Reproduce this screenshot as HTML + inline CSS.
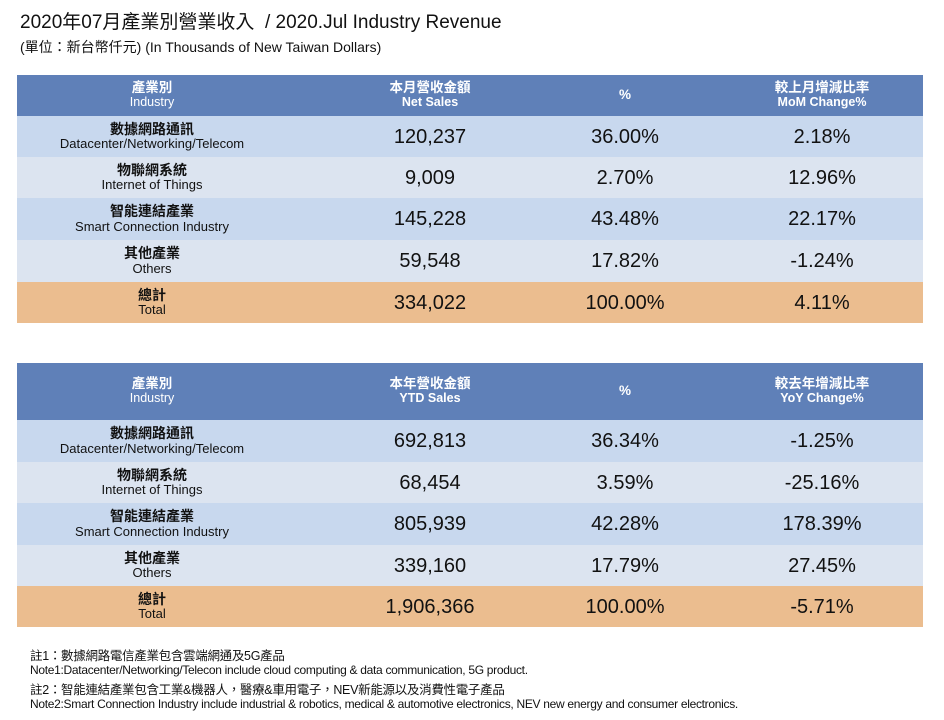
<!DOCTYPE html>
<html><head><meta charset="utf-8"><style>
body{margin:0;width:944px;height:720px;background:#fff;font-family:"Liberation Sans","Noto Sans CJK TC",sans-serif;color:#111;position:relative;overflow:hidden}
.abs{position:absolute}
.tbl{position:absolute;left:17px;width:906px}
.row{position:absolute;left:0;width:906px}
.c{position:absolute;top:0;height:100%;display:flex;flex-direction:column;justify-content:center;align-items:center;text-align:center;line-height:1.1}
.c1{left:0;width:270px}.c2{left:313px;width:200px}.c3{left:508px;width:200px}.c4{left:705px;width:200px}
.hd{background:#5f80b8;color:#fff;font-weight:bold;font-size:13.5px}
.hd span.en{font-size:12.5px}
.ra{background:#c8d8ee}.rb{background:#dce4f0}.tot{background:#ebbd8f}
.zh{font-weight:bold;font-size:14px}
.en2{font-size:13px}
.num{font-size:20px}
.note{position:absolute;left:30px;font-size:12.5px;letter-spacing:-0.3px}
</style></head><body>
<div class="abs" style="left:20px;top:7px;font-size:19px">2020年07月產業別營業收入 &nbsp;/ 2020.Jul Industry Revenue</div>
<div class="abs" style="left:20px;top:37px;font-size:14px">(單位：新台幣仟元) (In Thousands of New Taiwan Dollars)</div>

<div class="tbl" style="top:75px">
 <div class="row hd" style="top:0;height:41px">
  <div class="c c1">產業別<span class="en" style="font-weight:normal">Industry</span></div>
  <div class="c c2">本月營收金額<span class="en">Net Sales</span></div>
  <div class="c c3">%</div>
  <div class="c c4">較上月增減比率<span class="en">MoM Change%</span></div>
 </div>
 <div class="row ra" style="top:41px;height:41px"><div class="c c1"><span class="zh">數據網路通訊</span><span class="en2">Datacenter/Networking/Telecom</span></div><div class="c c2 num">120,237</div><div class="c c3 num">36.00%</div><div class="c c4 num">2.18%</div></div>
 <div class="row rb" style="top:82px;height:41px"><div class="c c1"><span class="zh">物聯網系統</span><span class="en2">Internet of Things</span></div><div class="c c2 num">9,009</div><div class="c c3 num">2.70%</div><div class="c c4 num">12.96%</div></div>
 <div class="row ra" style="top:123px;height:42px"><div class="c c1"><span class="zh">智能連結產業</span><span class="en2">Smart Connection Industry</span></div><div class="c c2 num">145,228</div><div class="c c3 num">43.48%</div><div class="c c4 num">22.17%</div></div>
 <div class="row rb" style="top:165px;height:42px"><div class="c c1"><span class="zh">其他產業</span><span class="en2">Others</span></div><div class="c c2 num">59,548</div><div class="c c3 num">17.82%</div><div class="c c4 num">-1.24%</div></div>
 <div class="row tot" style="top:207px;height:41px"><div class="c c1"><span class="zh">總計</span><span class="en2">Total</span></div><div class="c c2 num">334,022</div><div class="c c3 num">100.00%</div><div class="c c4 num">4.11%</div></div>
</div>

<div class="tbl" style="top:363px">
 <div class="row hd" style="top:0;height:57px">
  <div class="c c1">產業別<span class="en" style="font-weight:normal">Industry</span></div>
  <div class="c c2">本年營收金額<span class="en">YTD Sales</span></div>
  <div class="c c3">%</div>
  <div class="c c4">較去年增減比率<span class="en">YoY Change%</span></div>
 </div>
 <div class="row ra" style="top:57px;height:42px"><div class="c c1"><span class="zh">數據網路通訊</span><span class="en2">Datacenter/Networking/Telecom</span></div><div class="c c2 num">692,813</div><div class="c c3 num">36.34%</div><div class="c c4 num">-1.25%</div></div>
 <div class="row rb" style="top:99px;height:41px"><div class="c c1"><span class="zh">物聯網系統</span><span class="en2">Internet of Things</span></div><div class="c c2 num">68,454</div><div class="c c3 num">3.59%</div><div class="c c4 num">-25.16%</div></div>
 <div class="row ra" style="top:140px;height:42px"><div class="c c1"><span class="zh">智能連結產業</span><span class="en2">Smart Connection Industry</span></div><div class="c c2 num">805,939</div><div class="c c3 num">42.28%</div><div class="c c4 num">178.39%</div></div>
 <div class="row rb" style="top:182px;height:41px"><div class="c c1"><span class="zh">其他產業</span><span class="en2">Others</span></div><div class="c c2 num">339,160</div><div class="c c3 num">17.79%</div><div class="c c4 num">27.45%</div></div>
 <div class="row tot" style="top:223px;height:41px"><div class="c c1"><span class="zh">總計</span><span class="en2">Total</span></div><div class="c c2 num">1,906,366</div><div class="c c3 num">100.00%</div><div class="c c4 num">-5.71%</div></div>
</div>

<div class="note" style="top:645px">註1：數據網路電信產業包含雲端網通及5G產品</div>
<div class="note" style="top:663px;font-size:12px">Note1:Datacenter/Networking/Telecon include cloud computing &amp; data communication, 5G product.</div>
<div class="note" style="top:679px">註2：智能連結產業包含工業&amp;機器人，醫療&amp;車用電子，NEV新能源以及消費性電子產品</div>
<div class="note" style="top:697px;font-size:12px">Note2:Smart Connection Industry include industrial &amp; robotics, medical &amp; automotive electronics, NEV new energy and consumer electronics.</div>
</body></html>
